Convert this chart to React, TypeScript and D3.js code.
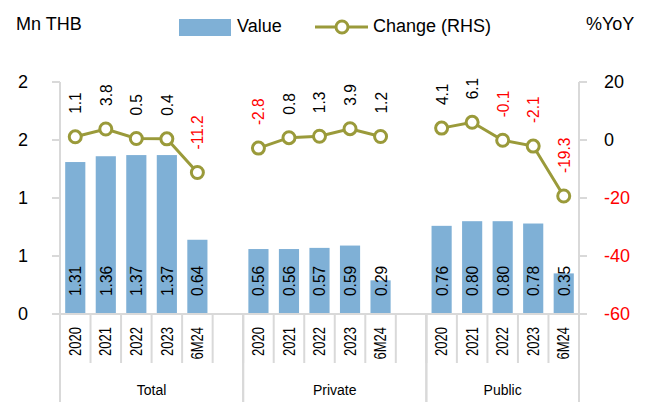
import * as d3 from 'd3'

const groups = ['Total', 'Private', 'Public']
const periods = ['2020', '2021', '2022', '2023', '6M24']
const totalValue = [1.31, 1.36, 1.37, 1.37, 0.64]
const privateValue = [0.56, 0.56, 0.57, 0.59, 0.29]
const publicValue = [0.76, 0.8, 0.8, 0.78, 0.35]
const totalChange = [1.1, 3.8, 0.5, 0.4, -11.2]
const privateChange = [-2.8, 0.8, 1.3, 3.9, 1.2]
const publicChange = [4.1, 6.1, -0.1, -2.1, -19.3]
const leftTicks = [0, 0.5, 1, 1.5, 2]
const leftTickLabels = ['0', '1', '1', '2', '2']
const rightTicks = [20, 0, -20, -40, -60]

const values = [totalValue, privateValue, publicValue]
const changes = [totalChange, privateChange, publicChange]

const W = 648
const H = 402
const BAR = '#7fb0d6'
const LINE = '#9a9a3a'
const AXIS = '#d9d9d9'
const FONT = '"Liberation Sans", Arial, sans-serif'

// 5 periods per group plus an empty slot between groups
const slots: string[] = []
groups.forEach((g, gi) => {
  periods.forEach((p) => slots.push(`${g}|${p}`))
  if (gi < groups.length - 1) slots.push(`${g}|gap`)
})

export default function App() {
  const left = 60
  const right = 579
  const top = 82
  const bottom = 314

  const x = d3.scaleBand().domain(slots).range([left, right]).padding(0)
  const bw = x.bandwidth()
  const barW = bw * 0.66
  const y = d3.scaleLinear().domain([0, 2]).range([bottom, top])
  const y2 = d3.scaleLinear().domain([-60, 20]).range([bottom, top])

  const line = d3
    .line<{ k: string; v: number }>()
    .x((d) => (x(d.k) as number) + bw / 2)
    .y((d) => y2(d.v))

  const groupEdges = groups.map((g, gi) => {
    const start = x(`${g}|2020`) as number
    const end = gi < groups.length - 1 ? (x(`${g}|gap`) as number) + bw : right
    return { g, start, end }
  })

  return (
    <svg width={W} height={H} style={{ position: 'absolute', left: 0, top: 0, fontFamily: FONT }}>
      <rect width={W} height={H} fill="#fff" />

      {/* titles + legend */}
      <text x={16} y={30} fontSize={18}>Mn THB</text>
      <text x={586} y={30} fontSize={18}>%YoY</text>
      <rect x={179} y={19} width={52} height={17} fill={BAR} />
      <text x={237} y={32} fontSize={18}>Value</text>
      <line x1={315} x2={368} y1={27} y2={27} stroke={LINE} strokeWidth={3} />
      <circle cx={342} cy={27} r={6} fill="#fff" stroke={LINE} strokeWidth={3} />
      <text x={373} y={32} fontSize={18}>Change (RHS)</text>

      {/* left axis */}
      <line x1={left} x2={left} y1={top} y2={bottom} stroke={AXIS} strokeWidth={2} />
      {leftTicks.map((t, i) => (
        <g key={`l${i}`}>
          <line x1={52} x2={left} y1={y(t)} y2={y(t)} stroke={AXIS} strokeWidth={2} />
          <text x={28} y={y(t)} dy="0.35em" textAnchor="end" fontSize={18}>
            {leftTickLabels[i]}
          </text>
        </g>
      ))}

      {/* right axis */}
      <line x1={right} x2={right} y1={top} y2={bottom} stroke={AXIS} strokeWidth={2} />
      {rightTicks.map((t) => (
        <g key={`r${t}`}>
          <line x1={right} x2={587} y1={y2(t)} y2={y2(t)} stroke={AXIS} strokeWidth={2} />
          <text x={604} y={y2(t)} dy="0.35em" fontSize={18} fill={t < 0 ? '#ff0000' : '#000'}>
            {t}
          </text>
        </g>
      ))}

      {/* bars */}
      {groups.map((g, gi) =>
        periods.map((p, pi) => {
          const cx = (x(`${g}|${p}`) as number) + bw / 2
          const v = values[gi][pi]
          return (
            <g key={`b${g}${p}`}>
              <rect x={cx - barW / 2} y={y(v)} width={barW} height={bottom - y(v)} fill={BAR} />
              <text
                transform={`translate(${cx},${bottom - 18}) scale(1.1,1) rotate(-90)`}
                dy="0.35em"
                fontSize={15.5}
              >
                {v.toFixed(2)}
              </text>
            </g>
          )
        })
      )}

      {/* category axis */}
      <line x1={52} x2={587} y1={bottom} y2={bottom} stroke={AXIS} strokeWidth={2} />
      {slots.map((s) => {
        const x0 = x(s) as number
        const p = s.split('|')[1]
        return (
          <g key={`s${s}`}>
            <line x1={x0 + bw} x2={x0 + bw} y1={bottom} y2={363} stroke={AXIS} strokeWidth={2} />
            {p !== 'gap' && (
              <text
                transform={`translate(${x0 + bw / 2},${327}) scale(1.25,1) rotate(-90)`}
                dy="0.35em"
                textAnchor="end"
                fontSize={13}
              >
                {p}
              </text>
            )}
          </g>
        )
      })}
      {groupEdges.map((e) => (
        <g key={`g${e.g}`}>
          <line x1={e.start} x2={e.start} y1={bottom} y2={H} stroke={AXIS} strokeWidth={2} />
          <line x1={e.end} x2={e.end} y1={bottom} y2={H} stroke={AXIS} strokeWidth={2} />
          <text x={(e.start + e.end) / 2} y={395} textAnchor="middle" fontSize={14}>
            {e.g}
          </text>
        </g>
      ))}

      {/* change lines */}
      {groups.map((g, gi) => {
        const pts = periods.map((p, pi) => ({ k: `${g}|${p}`, v: changes[gi][pi] }))
        return (
          <g key={`c${g}`}>
            <path d={line(pts) || ''} fill="none" stroke={LINE} strokeWidth={3} />
            {pts.map((d) => {
              const cx = (x(d.k) as number) + bw / 2
              return (
                <g key={d.k}>
                  <circle cx={cx} cy={y2(d.v)} r={6} fill="#fff" stroke={LINE} strokeWidth={3} />
                  <text
                    transform={`translate(${cx},${y2(d.v) - 23}) scale(1.1,1) rotate(-90)`}
                    dy="0.35em"
                    fontSize={15.5}
                    fill={d.v < 0 ? '#ff0000' : '#000'}
                  >
                    {d.v.toFixed(1)}
                  </text>
                </g>
              )
            })}
          </g>
        )
      })}
    </svg>
  )
}
